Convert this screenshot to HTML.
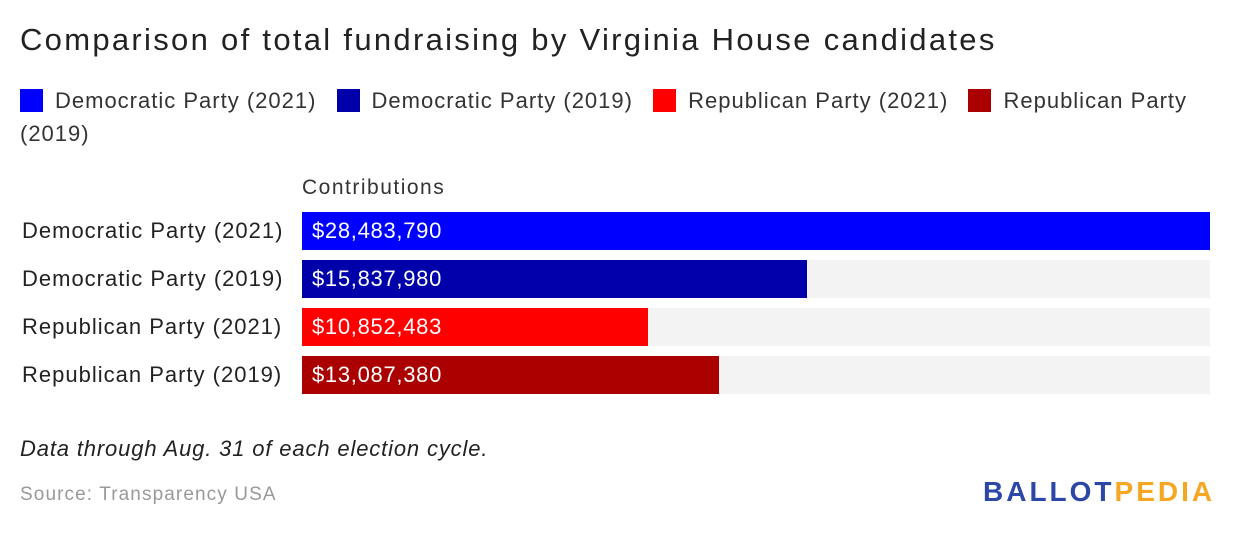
<!DOCTYPE html>
<html><head><meta charset="utf-8"><style>
body{margin:0;width:1240px;height:536px;background:#fff;font-family:"Liberation Sans",sans-serif;color:#333;position:relative;overflow:hidden}
.abs{position:absolute;white-space:nowrap}
.sw{display:inline-block;width:23px;height:23px;vertical-align:-4px;margin-right:12px}
.leg{font-size:22px;color:#333;letter-spacing:1px}
.ent{margin-right:13px}
</style></head><body>
<div class="abs" style="left:20px;top:22px;font-size:31px;color:#222;letter-spacing:2.3px">Comparison of total fundraising by Virginia House candidates</div>
<div class="abs leg" style="left:20px;top:84px;line-height:33px;white-space:normal;width:1200px">
<span class="ent"><span class="sw" style="background:#0000ff"></span>Democratic Party (2021)</span>
<span class="ent"><span class="sw" style="background:#0000aa"></span>Democratic Party (2019)</span>
<span class="ent"><span class="sw" style="background:#ff0000"></span>Republican Party (2021)</span>
<span><span class="sw" style="background:#aa0000"></span>Republican Party (2019)</span>
</div>
<div class="abs" style="left:302px;top:176px;font-size:21px;color:#333;letter-spacing:1.5px">Contributions</div>
<div id="chart"></div>
<div class="abs" style="left:20px;top:436px;font-size:22px;font-style:italic;color:#222;letter-spacing:0.85px">Data through Aug. 31 of each election cycle.</div>
<div class="abs" style="left:20px;top:484px;font-size:19px;color:#999;letter-spacing:1.1px">Source: Transparency USA</div>
<div class="abs" style="left:983px;top:476px;font-size:28px;font-weight:bold;letter-spacing:3px"><span style="color:#2b47a8">BALLOT</span><span style="color:#f5a623">PEDIA</span></div>
<script>
const categories=["Democratic Party (2021)","Democratic Party (2019)","Republican Party (2021)","Republican Party (2019)"];
const values=[28483790,15837980,10852483,13087380];
const colors=["#0000ff","#0000aa","#ff0000","#aa0000"];
const x0=302,w=908,y0=212,bh=38,step=48,max=Math.max(...values);
const xs=v=>v/max*w;
const c=document.getElementById('chart');
categories.forEach((cat,i)=>{
  const y=y0+i*step;
  const lab=document.createElement('div');
  lab.className='abs';
  
  
  lab.style.cssText=`left:22px;top:${y+6}px;font-size:22px;color:#222;letter-spacing:1px`;
  lab.textContent=cat;c.appendChild(lab);
  const bg=document.createElement('div');
  bg.className='abs';
  
  
  bg.style.cssText=`left:${x0}px;top:${y}px;width:${w}px;height:${bh}px;background:#f3f3f3`;
  c.appendChild(bg);
  const b=document.createElement('div');
  b.className='abs';
  
  
  b.style.cssText=`left:${x0}px;top:${y}px;width:${xs(values[i])}px;height:${bh}px;background:${colors[i]}`;
  c.appendChild(b);
  const t=document.createElement('div');
  t.className='abs';
  
  
  t.style.cssText=`left:${x0+10}px;top:${y+6}px;font-size:22px;color:#fff;letter-spacing:0.7px`;
  t.textContent='$'+values[i].toLocaleString('en-US');
  c.appendChild(t);
});
</script>
</body></html>
